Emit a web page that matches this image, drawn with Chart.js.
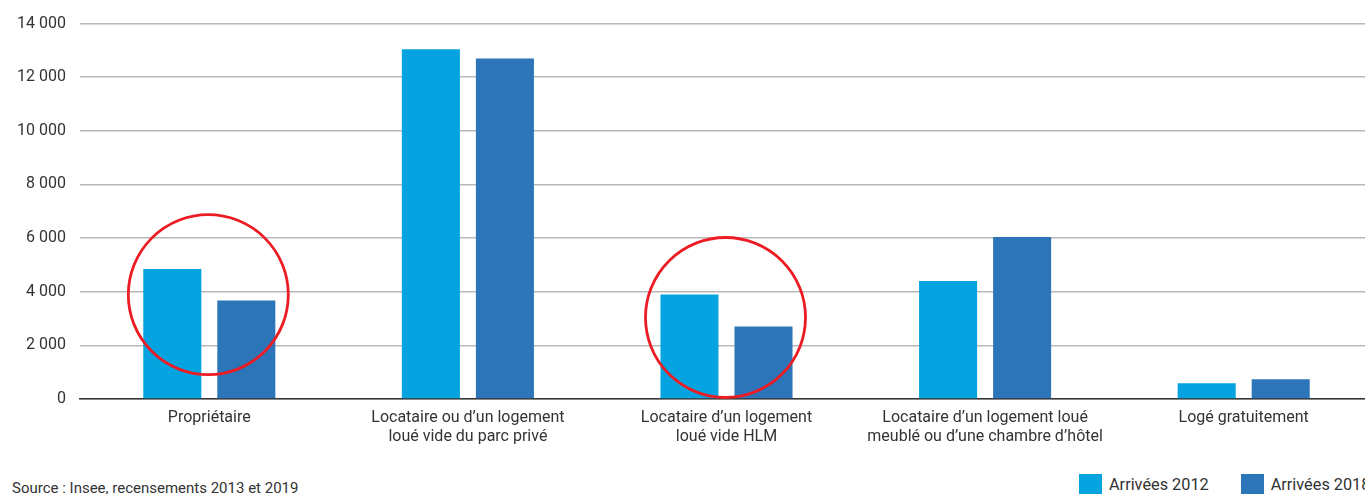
<!DOCTYPE html>
<html lang="fr">
<head>
<meta charset="utf-8">
<script src="https://cdn.jsdelivr.net/npm/chart.js@4/dist/chart.umd.min.js"></script>
<style>
    html, body { margin: 0; padding: 0; background: #fff; overflow: hidden; }
    #wrap { position: relative; width: 1373px; height: 494px; }
    #footer { position: absolute; left: 0; right: 0; bottom: 0; height: 20px; font-family: Roboto, sans-serif; font-size: 15px; color: #333; }
    #source { position: absolute; left: 12px; top: 5px; }
    #legend { position: absolute; left: 1079px; top: 0; display: flex; white-space: nowrap; }
    .item { display: flex; align-items: center; margin-right: 32px; font-size: 16.3px; }
    .box { width: 23px; height: 20px; margin-right: 7px; }
</style>
</head>
<body>
<div id="wrap">
    <canvas id="chart" width="1373" height="470"></canvas>
    <div id="footer">
        <div id="source">Source : Insee, recensements 2013 et 2019</div>
        <div id="legend"></div>
    </div>
</div>
<script>
// Categories and values
const categories = [
    'Propriétaire',
    ['Locataire ou d\u2019un logement', 'loué vide du parc privé'],
    ['Locataire d\u2019un logement', 'loué vide HLM'],
    ['Locataire d\u2019un logement loué', 'meublé ou d\u2019une chambre d\u2019hôtel'],
    'Logé gratuitement'
];
const arrivees2012 = [4850, 13040, 3900, 4400, 590];
const arrivees2018 = [3670, 12700, 2700, 6040, 740];
const seriesNames = ['Arrivées 2012', 'Arrivées 2018'];
const seriesColors = ['#05a3df', '#2d75b9'];
const yTicks = [0, 2000, 4000, 6000, 8000, 10000, 12000, 14000];

// Highlighted groups: category index and value at circle centre
const highlights = [
    { index: 0, value: 3890 },
    { index: 2, value: 3040 }
];

const fmt = v => String(v).replace(/\B(?=(\d{3})+(?!\d))/g, ' ');

// Red circles drawn around highlighted groups
const circlePlugin = {
    id: 'circles',
    afterDatasetsDraw(chart) {
        const ctx = chart.ctx;
        const x = chart.scales.x;
        const y = chart.scales.y;
        ctx.save();
        ctx.strokeStyle = '#ec1c24';
        ctx.lineWidth = 2.8;
        highlights.forEach(h => {
            ctx.beginPath();
            ctx.arc(x.getPixelForValue(h.index) - 1, y.getPixelForValue(h.value), 80, 0, Math.PI * 2);
            ctx.stroke();
        });
        ctx.restore();
    }
};

const ctx = document.getElementById('chart').getContext('2d');
new Chart(ctx, {
    type: 'bar',
    data: {
        labels: categories,
        datasets: [
            { label: seriesNames[0], data: arrivees2012, backgroundColor: seriesColors[0] },
            { label: seriesNames[1], data: arrivees2018, backgroundColor: seriesColors[1] }
        ]
    },
    options: {
        responsive: false,
        animation: false,
        categoryPercentage: 0.5725,
        barPercentage: 0.784,
        layout: { padding: { top: 20, left: 0, right: 0, bottom: 0 } },
        plugins: {
            legend: { display: false },
            tooltip: { enabled: false }
        },
        scales: {
            x: {
                grid: { display: false },
                border: { color: '#333', width: 1.5 },
                ticks: {
                    color: '#333',
                    font: { family: 'Roboto', size: 16 },
                    padding: 1,
                    maxRotation: 0,
                    autoSkip: false
                },
                afterFit(scale) { scale.height = 71; }
            },
            y: {
                min: 0,
                max: 14000,
                afterBuildTicks(scale) { scale.ticks = yTicks.map(v => ({ value: v })); },
                grid: { color: '#b8b8b8', lineWidth: 1.5, drawTicks: false },
                border: { display: false },
                ticks: {
                    color: '#333',
                    font: { family: 'Roboto', size: 16 },
                    padding: 14,
                    callback: v => fmt(v)
                },
                afterFit(scale) { scale.width = 80; }
            }
        }
    },
    plugins: [circlePlugin]
});

// Legend under the chart
const legend = document.getElementById('legend');
seriesNames.forEach((name, i) => {
    const item = document.createElement('div');
    item.className = 'item';
    item.innerHTML = '<span class="box" style="background:' + seriesColors[i] + '"></span>' + name;
    legend.appendChild(item);
});
</script>
</body>
</html>
